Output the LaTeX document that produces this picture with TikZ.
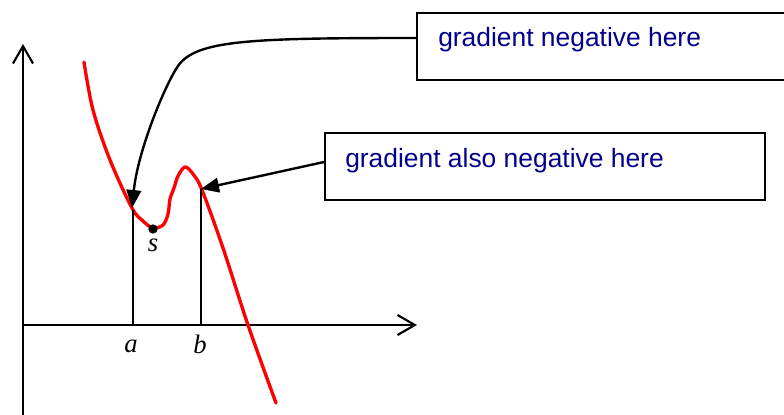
\documentclass[tikz,border=0pt]{standalone}
\usepackage{fontspec}
\setmainfont{Liberation Sans}
\newfontfamily\serifit{Liberation Serif}
\usetikzlibrary{arrows.meta}
\definecolor{navytext}{RGB}{0,0,140}
\begin{document}
\begin{tikzpicture}[x=0.75pt,y=-0.75pt,
  axisline/.style={line width=1.6pt,-{Straight Barb[length=13pt,width=15pt]}},
  curveline/.style={red,line width=2.5pt,line join=round,line cap=round},
  guideline/.style={line width=1.4pt},
  callout/.style={draw,line width=1.5pt,anchor=north west,inner sep=0pt},
  calltext/.style={text=navytext,anchor=base west,inner sep=0pt,font=\fontsize{19.8pt}{24pt}\selectfont},
  pointer/.style={line width=1.8pt,-{Triangle[length=13.5pt,width=11pt]}},
  mathlabel/.style={inner sep=0pt,anchor=base,font=\serifit\itshape\fontsize{20pt}{22pt}\selectfont}]
\clip (0,0) rectangle (784,414);
% axes
\coordinate (origin) at (23,325);
\coordinate (ytop) at (23,44);
\coordinate (ybot) at (23,420);
\coordinate (xend) at (417,325);
\draw[axisline] (ybot) -- (ytop);
\draw[axisline] (origin) -- (xend);
% curve
\draw[curveline] plot[smooth,tension=0.55] coordinates {(84,62) (93,110) (110,160) (132,208) (143,221) (153,228) (163,225) (168,214) (170,199) (174,188) (178,176) (185,167) (193,174) (202,190) (223,248) (248,325) (276,403)};
% guide lines
\coordinate (pa) at (133,210);
\coordinate (pb) at (201,189);
\coordinate (ta) at (133,325);
\coordinate (tb) at (201,325);
\draw[guideline] (pa) -- (ta);
\draw[guideline] (pb) -- (tb);
% point s
\node[circle,fill=black,inner sep=0pt,minimum size=7pt] (sdot) at (153,229) {};
\node[mathlabel] (slabel) at (153,251) {s};
\node[mathlabel] (alabel) at (131,352) {a};
\node[mathlabel] (blabel) at (200,353) {b};
% boxes
\node[callout,minimum width=288pt,minimum height=50.25pt] (box1) at (416,12) {};
\node[calltext] (text1) at (438,46) {gradient negative here};
\node[callout,minimum width=330pt,minimum height=50.25pt] (box2) at (324,132) {};
\node[calltext] (text2) at (345,167) {gradient also negative here};
% pointers
\coordinate (s1) at (416,38);
\coordinate (k1) at (178,66);
\coordinate (e1) at (132,208);
\draw[pointer] (s1) .. controls (250,38) and (196,40) .. (k1) .. controls (165,85) and (138,150) .. (e1);
\coordinate (s2) at (324,162);
\draw[pointer] (s2) -- (pb);
\end{tikzpicture}
\end{document}
